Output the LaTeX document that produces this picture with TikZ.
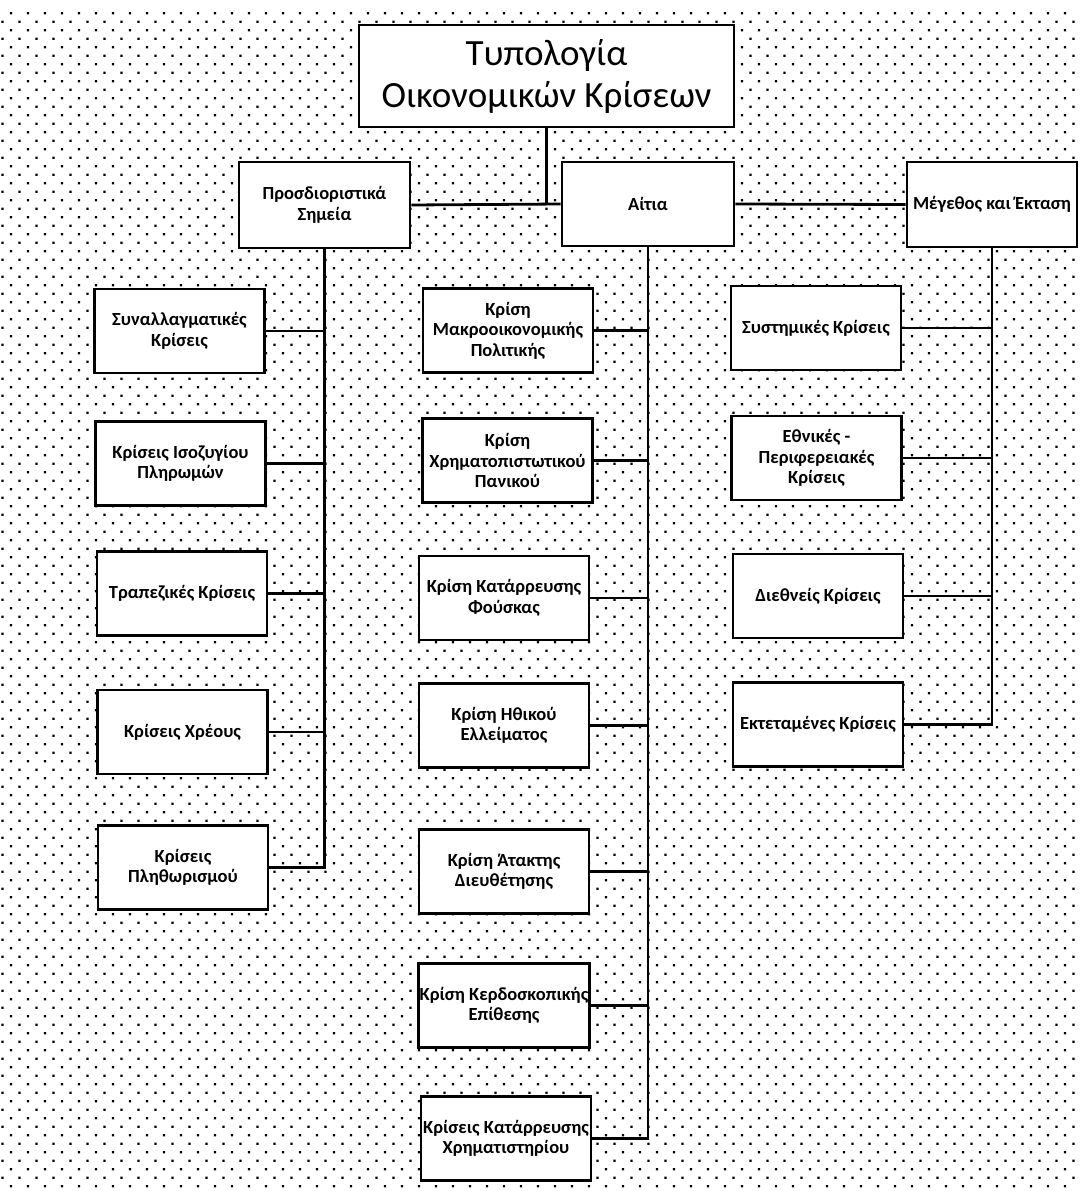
\documentclass[tikz,border=0pt]{standalone}
\usepackage{fontspec}
\setmainfont{Carlito}
\begin{document}
\begin{tikzpicture}[x=1pt,y=-1pt,
  box/.style={draw=black, line width=2.8pt, fill=white, minimum width=170pt, minimum height=84pt, inner sep=1pt, align=center, font=\fontsize{18.5}{20.5}\selectfont\bfseries},
  conn/.style={line width=2.8pt}]
\useasboundingbox (0,0) rectangle (1079,1191);
\fill[white] (0,0) rectangle (1079,1191);
% dotted background
\fill[black] \foreach \j in {0,...,69} { \foreach \i in {0,...,63} { ({11+17*\i-1.1},{13.3+17*\j-1.1}) rectangle +(2.2,2.2) } };
\fill[black] \foreach \j in {0,...,69} { \foreach \i in {0,...,63} { ({2.5+17*\i-1.1},{21.8+17*\j-1.1}) rectangle +(2.2,2.2) } };
% top level
\node[box, minimum width=375pt, minimum height=102pt, font=\fontsize{37}{42}\selectfont] (title) at (546.5,76) {Τυπολογία\\Οικονομικών Κρίσεων};
\node[box, minimum width=171pt, minimum height=86pt] (prosd) at (324.5,205) {Προσδιοριστικά\\Σημεία};
\node[box, minimum width=172pt] (aitia) at (648,204) {Αίτια};
\node[box, minimum height=85pt] (meg) at (992,204.5) {Μέγεθος και Έκταση};
% left column
\node[box] (l1) at (179.5,331) {Συναλλαγματικές\\Κρίσεις};
\node[box] (l2) at (180.5,463.5) {Κρίσεις Ισοζυγίου\\Πληρωμών};
\node[box] (l3) at (182,593.5) {Τραπεζικές Κρίσεις};
\node[box] (l4) at (182.5,732) {Κρίσεις Χρέους};
\node[box] (l5) at (183,867.5) {Κρίσεις\\Πληθωρισμού};
% middle column
\node[box] (m1) at (508,330.5) {Κρίση\\Μακροοικονομικής\\Πολιτικής};
\node[box] (m2) at (507.5,460.5) {Κρίση\\Χρηματοπιστωτικού\\Πανικού};
\node[box] (m3) at (504,598) {Κρίση Κατάρρευσης\\Φούσκας};
\node[box] (m4) at (504,725.5) {Κρίση Ηθικού\\Ελλείματος};
\node[box] (m5) at (504,871.5) {Κρίση Άτακτης\\Διευθέτησης};
\node[box] (m6) at (504,1005.5) {Κρίση Κερδοσκοπικής\\Επίθεσης};
\node[box] (m7) at (506,1138.5) {Κρίσεις Κατάρρευσης\\Χρηματιστηρίου};
% right column
\node[box] (r1) at (816,328) {Συστημικές Κρίσεις};
\node[box] (r2) at (816.5,458) {Εθνικές -\\Περιφερειακές\\Κρίσεις};
\node[box] (r3) at (818,596) {Διεθνείς Κρίσεις};
\node[box] (r4) at (818,724.5) {Εκτεταμένες Κρίσεις};
% connectors top
\draw[conn] (title.south) -- (title.south |- aitia.west);
\draw[conn] (prosd.east) -- (aitia.west);
\draw[conn] (aitia.east) -- (meg.west);
% left trunk
\draw[conn] (prosd.south) |- (l5.east);
\foreach \n in {l1,l2,l3,l4} \draw[conn] (\n.east) -- (\n.east -| prosd.south);
% middle trunk
\draw[conn] (aitia.south) |- (m7.east);
\foreach \n in {m1,m2,m3,m4,m5,m6} \draw[conn] (\n.east) -- (\n.east -| aitia.south);
% right trunk
\draw[conn] (meg.south) |- (r4.east);
\foreach \n in {r1,r2,r3} \draw[conn] (\n.east) -- (\n.east -| meg.south);
\end{tikzpicture}
\end{document}
